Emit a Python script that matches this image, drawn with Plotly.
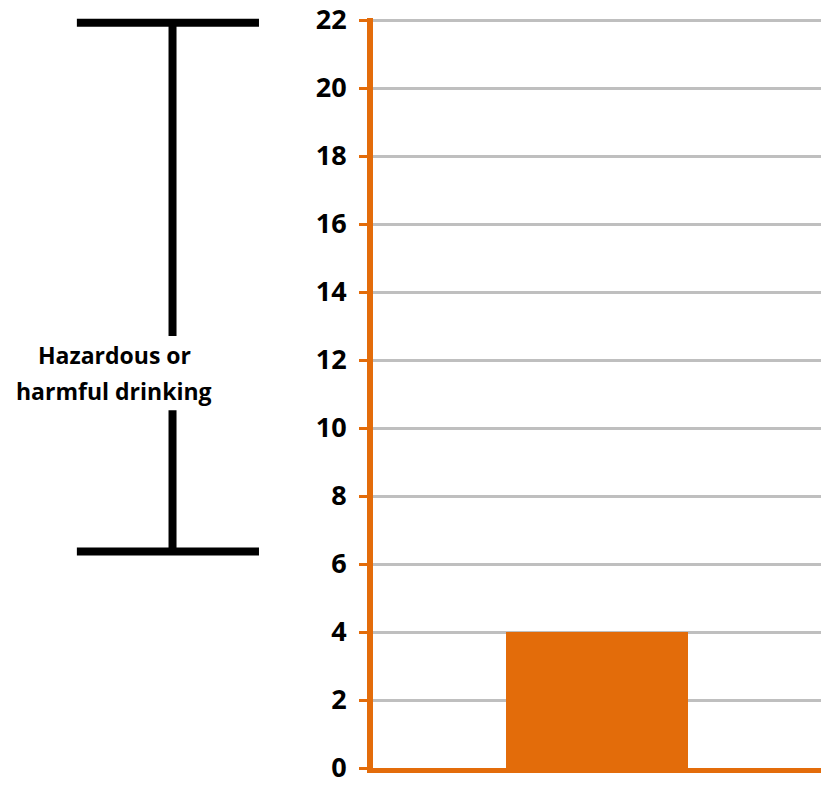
import plotly.graph_objects as go

categories = [""]
values = [4]
y_ticks = [0, 2, 4, 6, 8, 10, 12, 14, 16, 18, 20, 22]
hazard_range = [6.37, 21.92]   # bracket bottom / top (y units)
label_lines = ["Hazardous or", "harmful drinking"]

ORANGE = "#E36C0A"
GRID = "#BFBFBF"
FONT = "Open Sans"

fig = go.Figure()
fig.add_trace(go.Bar(x=categories, y=values, marker=dict(color=ORANGE, line=dict(width=0)),
                     width=0.408, hoverinfo="skip"))

# bracket shapes in left margin
xl, xr, xc = -0.661, -0.2545, -0.4475
lo, hi = hazard_range
gap_top, gap_bot = 12.71, 10.52
lw = 8
shapes = [
    dict(type="line", xref="paper", yref="y", x0=xl, x1=xr, y0=hi, y1=hi, line=dict(color="black", width=lw)),
    dict(type="line", xref="paper", yref="y", x0=xl, x1=xr, y0=lo, y1=lo, line=dict(color="black", width=lw)),
    dict(type="line", xref="paper", yref="y", x0=xc, x1=xc, y0=hi, y1=gap_top, line=dict(color="black", width=lw)),
    dict(type="line", xref="paper", yref="y", x0=xc, x1=xc, y0=gap_bot, y1=lo, line=dict(color="black", width=lw)),
]
annotations = [
    dict(xref="paper", yref="y", x=-0.578, y=12.15, text=label_lines[0], showarrow=False,
         font=dict(family=FONT, size=23, color="black", weight="bold"), xanchor="center", yanchor="middle"),
    dict(xref="paper", yref="y", x=-0.578, y=11.1, text=label_lines[1], showarrow=False,
         font=dict(family=FONT, size=23, color="black", weight="bold"), xanchor="center", yanchor="middle"),
]

fig.update_layout(
    width=821, height=787,
    margin=dict(l=373, r=0, t=13, b=19),
    plot_bgcolor="white", paper_bgcolor="white",
    showlegend=False, bargap=0,
    shapes=shapes, annotations=annotations,
    xaxis=dict(range=[-0.5, 0.5], showticklabels=False, showgrid=False, zeroline=False,
               showline=True, linecolor=ORANGE, linewidth=5, ticks=""),
    yaxis=dict(range=[0, 22.06], tickvals=y_ticks, ticktext=[str(v) for v in y_ticks],
               showgrid=True, gridcolor=GRID, gridwidth=3, zeroline=False,
               showline=True, linecolor=ORANGE, linewidth=6,
               ticks="outside", tickcolor=ORANGE, ticklen=8, tickwidth=3,
               ticklabeloverflow="allow", ticklabelstandoff=7,
               tickfont=dict(family=FONT, size=27, color="black", weight="bold")),
)

fig.write_html("out.html", config={"displayModeBar": False},
               post_script="document.body.style.margin='0';document.body.style.overflow='hidden';")
